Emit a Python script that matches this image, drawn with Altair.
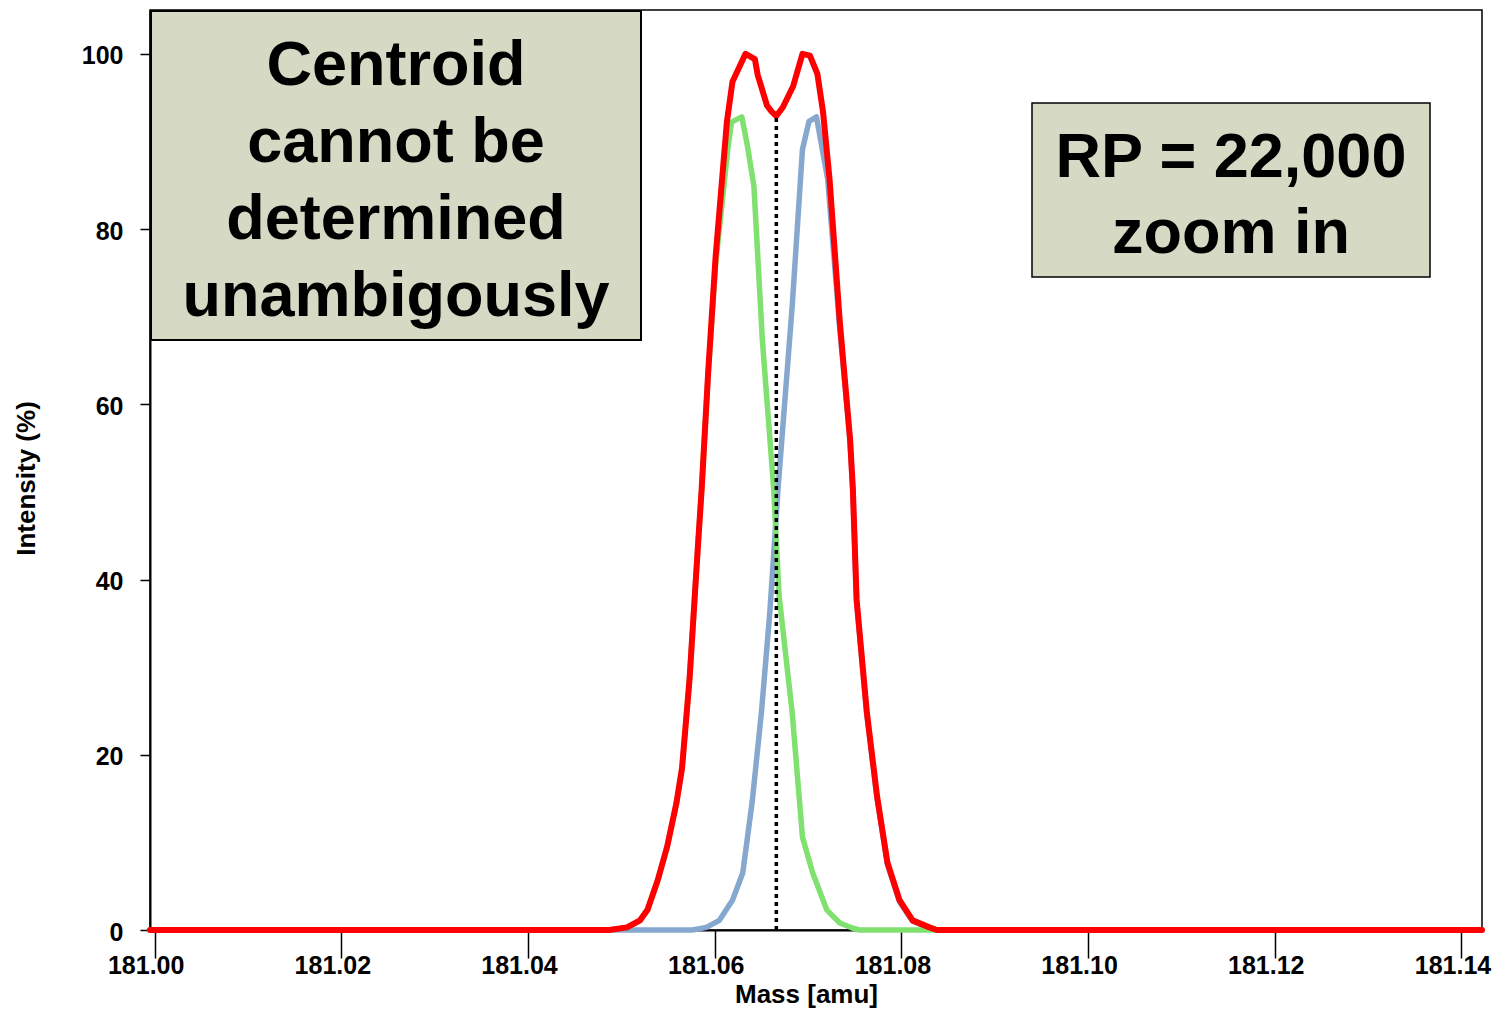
import altair as alt
import pandas as pd

# ---- data ----
red_mass = [180.9995, 181.0487, 181.0506, 181.0520, 181.0528, 181.0539, 181.0549, 181.0559,
            181.0565, 181.0573, 181.0582, 181.0586, 181.0593, 181.0601, 181.0613, 181.0619,
            181.0633, 181.0643, 181.0646, 181.0656, 181.0661, 181.0666, 181.0673, 181.0684,
            181.0694, 181.0702, 181.0710, 181.0716, 181.0723, 181.0734, 181.0745, 181.0748,
            181.0752, 181.0763, 181.0774, 181.0785, 181.0798, 181.0812, 181.0830, 181.0838,
            181.1422]
red_int = [0, 0, 0.3, 1.1, 2.3, 5.7, 9.5, 14.5,
           18.5, 28.6, 43.8, 50.3, 63.7, 76.9, 92.2, 96.8,
           100.0, 99.4, 97.6, 94.1, 93.4, 92.9, 93.9, 96.3,
           100.0, 99.8, 97.7, 93.4, 85.7, 69.4, 56.0, 50.3,
           37.7, 24.8, 15.2, 7.7, 3.4, 1.1, 0.3, 0,
           0]

green_mass = [180.9995, 181.0487, 181.0506, 181.0520, 181.0528, 181.0539, 181.0549, 181.0559,
              181.0565, 181.0573, 181.0582, 181.0586, 181.0593, 181.0601, 181.0614, 181.0618,
              181.0629, 181.0635, 181.0642, 181.0651, 181.0663, 181.0669, 181.0683, 181.0694,
              181.0705, 181.0720, 181.0734, 181.0748, 181.0755, 181.1422]
green_int = [0, 0, 0.3, 1.1, 2.3, 5.7, 9.5, 14.5,
             18.5, 28.6, 43.8, 50.3, 63.5, 76.0, 89.1, 92.2,
             92.8, 89.5, 84.9, 67.4, 50.6, 38.1, 24.8, 10.6,
             6.5, 2.3, 0.8, 0.2, 0, 0]

blue_mass = [180.9995, 181.0576, 181.0591, 181.0605, 181.0619, 181.0630, 181.0640, 181.0650,
             181.0659, 181.0668, 181.0683, 181.0694, 181.0701, 181.0709, 181.0721, 181.0734,
             181.0745, 181.0748, 181.0752, 181.0763, 181.0774, 181.0785, 181.0798, 181.0812,
             181.0830, 181.0838, 181.1422]
blue_int = [0, 0, 0.3, 1.1, 3.4, 6.5, 14.5, 24.8,
            36.2, 50.6, 71.2, 89.1, 92.3, 92.8, 85.7, 68.6,
            55.8, 50.1, 37.5, 24.6, 15.0, 7.5, 3.2, 1.0,
            0.2, 0, 0]

centroid_mass = [181.0666, 181.0666]
centroid_int = [0, 92.9]

x_ticks = [181.00, 181.02, 181.04, 181.06, 181.08, 181.10, 181.12, 181.14]
y_ticks = [0, 20, 40, 60, 80, 100]

left_note = ["Centroid", "cannot be", "determined", "unambigously"]
right_note = ["RP = 22,000", "zoom in"]

FONT = "Liberation Sans"

red_df = pd.DataFrame({"mass": red_mass, "intensity": red_int})
green_df = pd.DataFrame({"mass": green_mass, "intensity": green_int})
blue_df = pd.DataFrame({"mass": blue_mass, "intensity": blue_int})
cen_df = pd.DataFrame({"mass": centroid_mass, "intensity": centroid_int})

x_scale = alt.Scale(domain=[180.9995, 181.1422], nice=False, zero=False)
y_scale = alt.Scale(domain=[0, 105], nice=False, zero=True)

x_axis = alt.Axis(
    values=x_ticks, format=".2f", title="Mass [amu]",
    labelFont=FONT, labelFontSize=25, labelFontWeight="bold", labelColor="black",
    labelBaseline="alphabetic", labelPadding=15, labelOffset=-9, labelFlush=False,
    labelOverlap=False,
    tickSize=28, tickColor="black", tickWidth=1.5,
    domainColor="black", domainWidth=2, grid=False,
    titleFont=FONT, titleFontSize=26, titleFontWeight="bold", titleColor="black",
    titleX=656, titleY=72, titleBaseline="alphabetic", titleAlign="center",
)
y_axis = alt.Axis(
    values=y_ticks, format="d", title="Intensity (%)",
    labelFont=FONT, labelFontSize=25, labelFontWeight="bold", labelColor="black",
    labelPadding=17, labelBaseline="middle", labelOffset=2,
    tickSize=10, tickColor="black", tickWidth=1.5,
    domainColor="black", domainWidth=2, grid=False,
    titleFont=FONT, titleFontSize=26, titleFontWeight="bold", titleColor="black",
    titleX=-124, titleY=468, titleBaseline="middle", titleAlign="center", titleAngle=270,
)

def line(df, color, width):
    return alt.Chart(df).mark_line(color=color, strokeWidth=width, strokeJoin="round", strokeCap="round").encode(
        x=alt.X("mass:Q", scale=x_scale, axis=x_axis),
        y=alt.Y("intensity:Q", scale=y_scale, axis=y_axis),
        order=alt.Order("mass:Q"),
    )

blue_line = line(blue_df, "#86a8cf", 5.5)
green_line = line(green_df, "#80e070", 5.5)
red_line = line(red_df, "#ff0000", 6)

centroid = alt.Chart(cen_df).mark_line(color="black", strokeWidth=3.5, strokeDash=[4, 4]).encode(
    x=alt.X("mass:Q", scale=x_scale, axis=x_axis),
    y=alt.Y("intensity:Q", scale=y_scale, axis=y_axis),
)

box_fill = "#d6d9c3"
left_box = alt.Chart(pd.DataFrame({"k": [0]})).mark_rect(
    fill=box_fill, stroke="black", strokeWidth=2
).encode(x=alt.value(1), x2=alt.value(491), y=alt.value(1), y2=alt.value(330))

right_box = alt.Chart(pd.DataFrame({"k": [0]})).mark_rect(
    fill=box_fill, stroke="black", strokeWidth=1.5
).encode(x=alt.value(882), x2=alt.value(1280), y=alt.value(93), y2=alt.value(267))

left_text = alt.Chart(pd.DataFrame({"k": [0]})).mark_text(
    text=left_note, font=FONT, fontSize=63, fontWeight="bold", color="black",
    align="center", baseline="alphabetic", lineHeight=77,
).encode(x=alt.value(246), y=alt.value(75))

right_text = alt.Chart(pd.DataFrame({"k": [0]})).mark_text(
    text=right_note, font=FONT, fontSize=63, fontWeight="bold", color="black",
    align="center", baseline="alphabetic", lineHeight=76,
).encode(x=alt.value(1081), y=alt.value(167))

chart = alt.layer(
    blue_line, green_line, red_line, centroid,
    left_box, left_text, right_box, right_text,
).properties(
    width=1332, height=920,
    autosize=alt.AutoSizeParams(type="none"),
    padding={"left": 150, "top": 10, "right": 15, "bottom": 80},
    background="white",
).configure_view(stroke="black", strokeWidth=1.5)

chart.save("out.html", embed_options={"renderer": "svg", "actions": False})
